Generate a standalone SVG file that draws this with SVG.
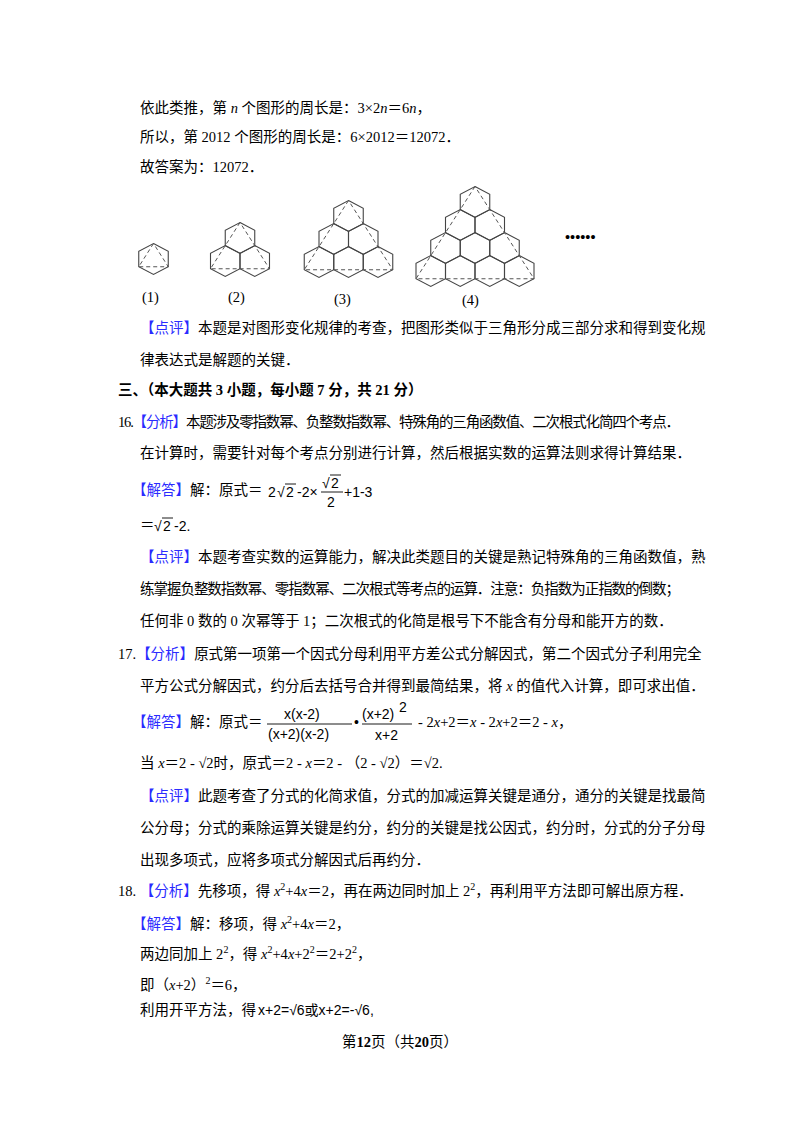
<svg xmlns="http://www.w3.org/2000/svg" width="800" height="1132" viewBox="0 0 800 1132">
<style>
text{font-family:"Liberation Serif","Noto Sans CJK SC",serif;font-size:14.5px;fill:#000}
.b{fill:#2b2bff}
.bd{font-weight:bold}
.h{fill:none;stroke:#444;stroke-width:1.1}
.d{fill:none;stroke:#555;stroke-width:1;stroke-dasharray:4 3}
.m{font-family:"Liberation Sans","Noto Sans CJK SC",sans-serif;font-size:14px}
.ln{stroke:#000;stroke-width:0.9}
</style>
<defs>
<path id="hx" class="h" d="M0,-15.5 L14.75,-7.75 L14.75,7.75 L0,15.5 L-14.75,7.75 L-14.75,-7.75 Z"/>
</defs>
<rect width="800" height="1132" fill="#fff"/>
<text x="140" y="113">依此类推，第 <tspan font-style="italic">n</tspan> 个图形的周长是：3×2<tspan font-style="italic">n</tspan>＝6<tspan font-style="italic">n</tspan>，</text>
<text x="140" y="142">所以，第 2012 个图形的周长是：6×2012＝12072．</text>
<text x="140" y="172">故答案为：12072．</text>
<g id="fig1">
<use href="#hx" x="153.5" y="259"/>
<path class="d" d="M153.5,243.5 L138.75,266.75 L168.25,266.75 Z"/>
<text x="142" y="302">(1)</text>
</g>
<g id="fig2">
<use href="#hx" x="240" y="238"/><use href="#hx" x="225.25" y="261"/><use href="#hx" x="254.75" y="261"/>
<path class="d" d="M240,222.5 L210.5,268.75 L269.5,268.75 Z"/>
<text x="228" y="302">(2)</text>
</g>
<g id="fig3">
<use href="#hx" x="348.5" y="216"/><use href="#hx" x="333.75" y="239"/><use href="#hx" x="363.25" y="239"/>
<use href="#hx" x="319" y="262"/><use href="#hx" x="348.5" y="262"/><use href="#hx" x="378" y="262"/>
<path class="d" d="M348.5,200.5 L304.25,269.75 L392.75,269.75 Z"/>
<text x="334" y="304">(3)</text>
</g>
<g id="fig4">
<use href="#hx" x="475" y="202"/><use href="#hx" x="460.25" y="225"/><use href="#hx" x="489.75" y="225"/>
<use href="#hx" x="445.5" y="248"/><use href="#hx" x="475" y="248"/><use href="#hx" x="504.5" y="248"/>
<use href="#hx" x="430.75" y="271"/><use href="#hx" x="460.25" y="271"/><use href="#hx" x="489.75" y="271"/><use href="#hx" x="519.25" y="271"/>
<path class="d" d="M475,186.5 L416,278.75 L534,278.75 Z"/>
<text x="462" y="305">(4)</text>
</g>
<text x="565" y="242" class="bd" font-size="12">••••••</text>
<text x="140" y="333"><tspan class="b">【点评】</tspan>本题是对图形变化规律的考查，把图形类似于三角形分成三部分求和得到变化规</text>
<text x="140" y="365">律表达式是解题的关键．</text>
<text x="118" y="395" class="bd">三、（本大题共 3 小题，每小题 7 分，共 21 分）</text>
<text x="118" y="427" textLength="562">16.<tspan class="b">【分析】</tspan>本题涉及零指数幂、负整数指数幂、特殊角的三角函数值、二次根式化简四个考点．</text>
<text x="140" y="458">在计算时，需要针对每个考点分别进行计算，然后根据实数的运算法则求得计算结果．</text>
<text x="132" y="495"><tspan class="b">【解答】</tspan>解：原式＝</text>
<text x="268" y="497" class="m">2</text><text x="277" y="497" class="m">√</text><line class="ln" x1="285" y1="484" x2="296" y2="484"/><text x="286" y="497" class="m">2</text>
<text x="297" y="497" class="m">-2×</text>
<text x="322" y="488" class="m">√</text><line class="ln" x1="330" y1="475" x2="341" y2="475"/><text x="331" y="488" class="m">2</text>
<line class="ln" x1="321" y1="492" x2="343" y2="492"/>
<text x="327" y="507" class="m">2</text>
<text x="344" y="497" class="m">+1-3</text>
<text x="140" y="530">＝</text><text x="154" y="531" class="m">√</text><line class="ln" x1="162" y1="518" x2="173" y2="518"/><text x="163" y="531" class="m">2</text><text x="174" y="531" class="m">-2.</text>
<text x="140" y="562"><tspan class="b">【点评】</tspan>本题考查实数的运算能力，解决此类题目的关键是熟记特殊角的三角函数值，熟</text>
<text x="140" y="594" textLength="540">练掌握负整数指数幂、零指数幂、二次根式等考点的运算．注意：负指数为正指数的倒数；</text>
<text x="140" y="626">任何非 0 数的 0 次幂等于 1；二次根式的化简是根号下不能含有分母和能开方的数．</text>
<text x="118" y="659">17.<tspan class="b">【分析】</tspan>原式第一项第一个因式分母利用平方差公式分解因式，第二个因式分子利用完全</text>
<text x="140" y="691">平方公式分解因式，约分后去括号合并得到最简结果，将 <tspan font-style="italic">x</tspan> 的值代入计算，即可求出值．</text>
<text x="132" y="727"><tspan class="b">【解答】</tspan>解：原式＝</text>
<text x="284" y="719" class="m">x(x-2)</text>
<line class="ln" x1="267" y1="724" x2="352" y2="724"/>
<text x="268" y="739" class="m">(x+2)(x-2)</text>
<text x="354" y="727" class="m">•</text>
<text x="362" y="719" class="m">(x+2)</text><text x="399" y="712" class="m" font-size="11">2</text>
<line class="ln" x1="362" y1="724" x2="412" y2="724"/>
<text x="375" y="740" class="m">x+2</text>
<text x="418" y="727">- 2<tspan font-style="italic">x</tspan>+2＝<tspan font-style="italic">x</tspan> - 2<tspan font-style="italic">x</tspan>+2＝2 - <tspan font-style="italic">x</tspan>，</text>
<text x="140" y="768">当 <tspan font-style="italic">x</tspan>＝2 - √2时，原式＝2 - <tspan font-style="italic">x</tspan>＝2 - （2 - √2）＝√2.</text>
<text x="140" y="801"><tspan class="b">【点评】</tspan>此题考查了分式的化简求值，分式的加减运算关键是通分，通分的关键是找最简</text>
<text x="140" y="833">公分母；分式的乘除运算关键是约分，约分的关键是找公因式，约分时，分式的分子分母</text>
<text x="140" y="865">出现多项式，应将多项式分解因式后再约分．</text>
<text x="118" y="896">18. <tspan class="b">【分析】</tspan>先移项，得 <tspan font-style="italic">x</tspan><tspan font-size="10" dy="-6">2</tspan><tspan dy="6">+4</tspan><tspan font-style="italic">x</tspan>＝2，再在两边同时加上 2<tspan font-size="10" dy="-6">2</tspan><tspan dy="6">，再利用平方法即可解出原方程．</tspan></text>
<text x="132" y="929"><tspan class="b">【解答】</tspan>解：移项，得 <tspan font-style="italic">x</tspan><tspan font-size="10" dy="-6">2</tspan><tspan dy="6">+4</tspan><tspan font-style="italic">x</tspan>＝2，</text>
<text x="140" y="959">两边同加上 2<tspan font-size="10" dy="-6">2</tspan><tspan dy="6">，得 </tspan><tspan font-style="italic">x</tspan><tspan font-size="10" dy="-6">2</tspan><tspan dy="6">+4</tspan><tspan font-style="italic">x</tspan>+2<tspan font-size="10" dy="-6">2</tspan><tspan dy="6">＝2+2</tspan><tspan font-size="10" dy="-6">2</tspan><tspan dy="6">，</tspan></text>
<text x="140" y="990">即（<tspan font-style="italic">x</tspan>+2）<tspan font-size="10" dy="-6">2</tspan><tspan dy="6">＝6，</tspan></text>
<text x="140" y="1015">利用开平方法，得</text>
<text x="258" y="1015" class="m">x+2=√6或x+2=-√6,</text>
<text x="400" y="1047" text-anchor="middle">第<tspan class="bd">12</tspan>页（共<tspan class="bd">20</tspan>页）</text>
</svg>
